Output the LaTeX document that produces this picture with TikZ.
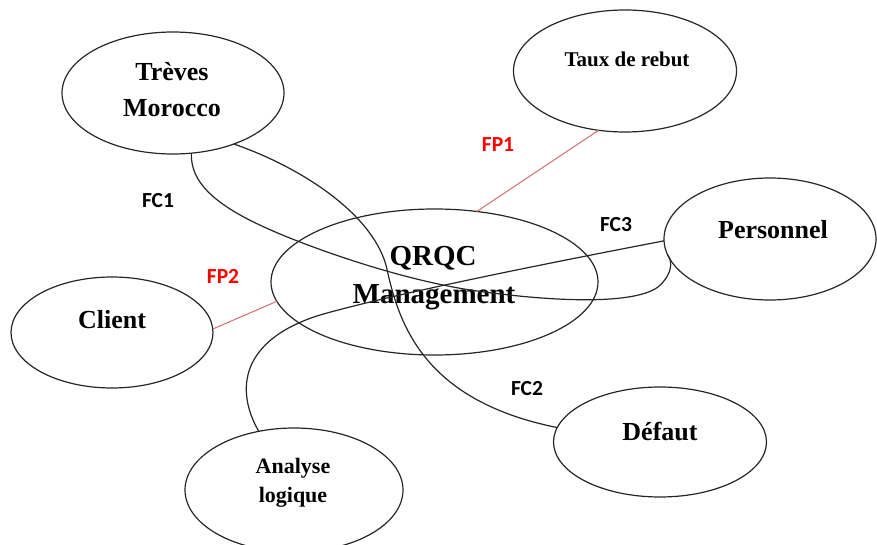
\documentclass[tikz,border=0pt]{standalone}
\usepackage{fontspec}
\setmainfont{Liberation Serif}
\newfontfamily\labfont{Carlito}
\usetikzlibrary{shapes.geometric}
\definecolor{linkred}{RGB}{214,110,110}
\definecolor{lblred}{RGB}{255,0,0}
\tikzset{
  ell/.style={ellipse, draw=black!85, line width=1.2pt, inner sep=0pt, outer sep=0pt},
  ttl/.style={anchor=base, inner sep=0pt, font=\bfseries},
  conn/.style={draw=black!85, line width=1.2pt},
  redconn/.style={draw=linkred, line width=1pt},
  lbl/.style={anchor=base, inner sep=0pt, font=\labfont\bfseries\fontsize{21.5}{25}\selectfont},
}
\begin{document}
\begin{tikzpicture}[x=1pt,y=-1pt]
\useasboundingbox (0,0) rectangle (877,545);
% ellipses
\node[ell, minimum width=222pt, minimum height=122pt] (treves) at (173,93) {};
\node[ell, minimum width=223pt, minimum height=122pt] (taux) at (625,71) {};
\node[ell, minimum width=212pt, minimum height=122pt] (personnel) at (770,239) {};
\node[ell, minimum width=327pt, minimum height=146pt] (qrqc) at (434.5,282) {};
\node[ell, minimum width=202pt, minimum height=111pt] (client) at (112,332.5) {};
\node[ell, minimum width=213pt, minimum height=110pt] (defaut) at (660,442) {};
\node[ell, minimum width=218pt, minimum height=124pt] (analyse) at (294,490) {};
% texts
\node[ttl, font=\bfseries\fontsize{26}{30}\selectfont] (t1a) at (172,81) {Trèves};
\node[ttl, font=\bfseries\fontsize{26}{30}\selectfont] (t1b) at (172,117) {Morocco};
\node[ttl, font=\bfseries\fontsize{21}{25}\selectfont] (t2) at (627,67) {Taux de rebut};
\node[ttl, font=\bfseries\fontsize{26}{30}\selectfont] (t3) at (773,238) {Personnel};
\node[ttl, font=\bfseries\fontsize{29}{34}\selectfont] (t4a) at (433,265) {QRQC};
\node[ttl, font=\bfseries\fontsize{29}{34}\selectfont] (t4b) at (434,303) {Management};
\node[ttl, font=\bfseries\fontsize{26}{30}\selectfont] (t5) at (112,328) {Client};
\node[ttl, font=\bfseries\fontsize{26}{30}\selectfont] (t6) at (660,440) {Défaut};
\node[ttl, font=\bfseries\fontsize{22}{26}\selectfont] (t7a) at (293,473) {Analyse};
\node[ttl, font=\bfseries\fontsize{22}{26}\selectfont] (t7b) at (293,502) {logique};
% connectors
\draw[conn] (treves.-73) .. controls (190,190) and (230,215) .. (300,242)
  .. controls (360,265) and (420,282) .. (470,290)
  .. controls (560,303) and (635,304) .. (658,287)
  .. controls (672,275) and (673,262) .. (personnel.189);
\draw[conn] (treves.-40) .. controls (295,165) and (370,210) .. (386,265)
  .. controls (398,320) and (420,400) .. (defaut.172);
\draw[conn] (personnel.181) .. controls (580,257) and (400,292) .. (320,315)
  .. controls (240,340) and (235,390) .. (analyse.121);
\draw[redconn] (taux.-114) -- (qrqc.59);
\draw[redconn] (client.2) -- (qrqc.187);
% labels
\node[lbl] (fc1) at (158,208) {FC1};
\node[lbl, text=lblred] (fp1) at (498,152) {FP1};
\node[lbl] (fc3) at (616,232) {FC3};
\node[lbl, text=lblred] (fp2) at (223,283) {FP2};
\node[lbl] (fc2) at (527,395) {FC2};
\end{tikzpicture}
\end{document}
